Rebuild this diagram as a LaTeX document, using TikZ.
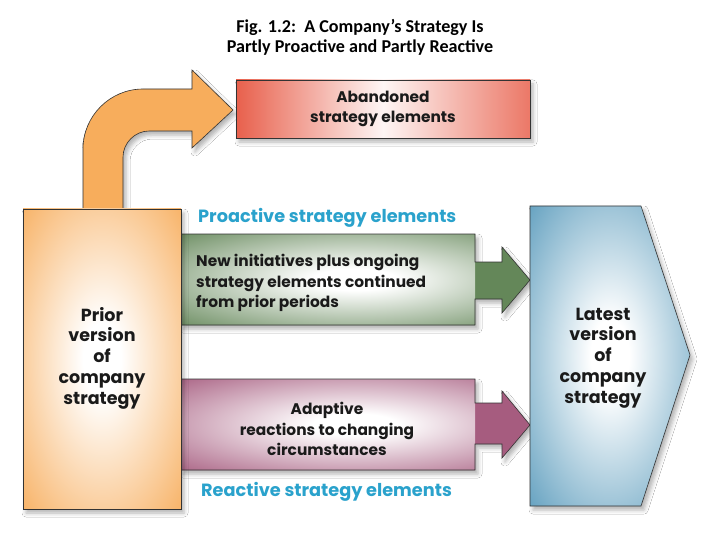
\documentclass[tikz,border=0pt]{standalone}
\usepackage{fontspec}
\setmainfont{Carlito}
\newfontfamily\diagfont{Poppins}
\usepackage{tikz}
\usetikzlibrary{positioning, shadows.blur}
\definecolor{SG_ORANGE}{HTML}{F7AD5C}
\definecolor{SG_RED}{HTML}{E8604C}
\definecolor{SG_GREEN}{HTML}{648759}
\definecolor{SG_PURPLE}{HTML}{A65C7F}
\definecolor{SG_BLUE}{HTML}{5A9BBC}
\definecolor{SG_CYAN}{HTML}{2AA2CC}
\definecolor{SG_INK}{HTML}{1A1A1A}
\colorlet{pillowout}{SG_ORANGE}
\pgfdeclareradialshading[pillowout]{pillow}{\pgfpointorigin}{%
  color(0bp)=(white); color(6bp)=(white); color(38bp)=(pillowout); color(100bp)=(pillowout)}
\tikzset{
  boxtext/.style={
    align=center, inner sep=0pt, text=SG_INK,
    font=\diagfont\bfseries\fontsize{15.4}{20.75}\selectfont},
  bigtext/.style={
    boxtext, font=\diagfont\bfseries\fontsize{17.5}{20.75}\selectfont},
  grouplabel/.style={
    anchor=west, inner sep=0pt, text=SG_CYAN,
    font=\diagfont\bfseries\fontsize{17.7}{20}\selectfont},
  outline/.style={draw=black!80, line width=0.6pt, line join=miter},
  softshadow/.style={
    blur shadow={shadow xshift=3pt, shadow yshift=-4pt,
      shadow blur radius=4pt, shadow opacity=30}},
  pillow/.style={shading=pillow, /utils/exec={\colorlet{pillowout}{#1}}},
}

\begin{document}
\begin{tikzpicture}[x=1pt, y=-1pt]

  \useasboundingbox[fill=white] (0,0) rectangle (720,540);

  \node[font=\bfseries\fontsize{18.1}{20}\selectfont, align=center] (title) at (360,37)
    {Fig. 1.2:\ \ A Company’s Strategy Is\\Partly Proactive and Partly Reactive};

  % bent arrow to the abandoned elements
  \path[fill=SG_ORANGE, outline, softshadow]
    (83,209) -- (83,149) .. controls (83,116) and (110,89) .. (143,89)
    -- (192,89) -- (192,70) -- (233,110) -- (192,148) -- (192,131)
    -- (149,131) .. controls (135,131) and (123,143) .. (123,157)
    -- (123,209) -- cycle;

  \shade[outline, softshadow, left color=SG_RED, right color=SG_RED!85,
    middle color=SG_RED!6] (236,80) rectangle (530,138);
  \node[boxtext] (aband) at (383,109) {Abandoned\\strategy elements};

  % proactive arrow
  \path[fill=SG_GREEN, outline, softshadow,
    path picture={\shade[pillow=SG_GREEN] (180,234) rectangle (475,325);}]
    (180,234) -- (475,234) -- (475,262) -- (502,262) -- (502,247)
    -- (530,280) -- (502,313) -- (502,299) -- (475,299) -- (475,325)
    -- (180,325) -- cycle;
  \node[grouplabel] (prolabel) at (198,218) {Proactive strategy elements};
  \node[boxtext, anchor=west, align=left] (protext) at (196,283)
    {New initiatives plus ongoing\\strategy elements continued\\from prior periods};

  % reactive arrow
  \path[fill=SG_PURPLE, outline, softshadow,
    path picture={\shade[pillow=SG_PURPLE] (180,379) rectangle (475,470);}]
    (180,379) -- (475,379) -- (475,403) -- (502,403) -- (502,391)
    -- (530,425) -- (502,458) -- (502,444) -- (475,444) -- (475,470)
    -- (180,470) -- cycle;
  \node[boxtext] (retext) at (327,429)
    {Adaptive\\reactions to changing\\circumstances};
  \node[grouplabel] (relabel) at (201,492) {Reactive strategy elements};

  % prior and latest strategy
  \path[outline, softshadow, pillow=SG_ORANGE] (23,209) rectangle (181,509);
  \node[bigtext] (prior) at (102,358)
    {Prior\\version\\of\\company\\strategy};

  \path[outline, softshadow, pillow=SG_BLUE]
    (530,206) -- (641,206) -- (690,355) -- (641,506) -- (530,506) -- cycle;
  \node[bigtext] (latest) at (603,358)
    {Latest\\version\\of\\company\\strategy};

\end{tikzpicture}
\end{document}
